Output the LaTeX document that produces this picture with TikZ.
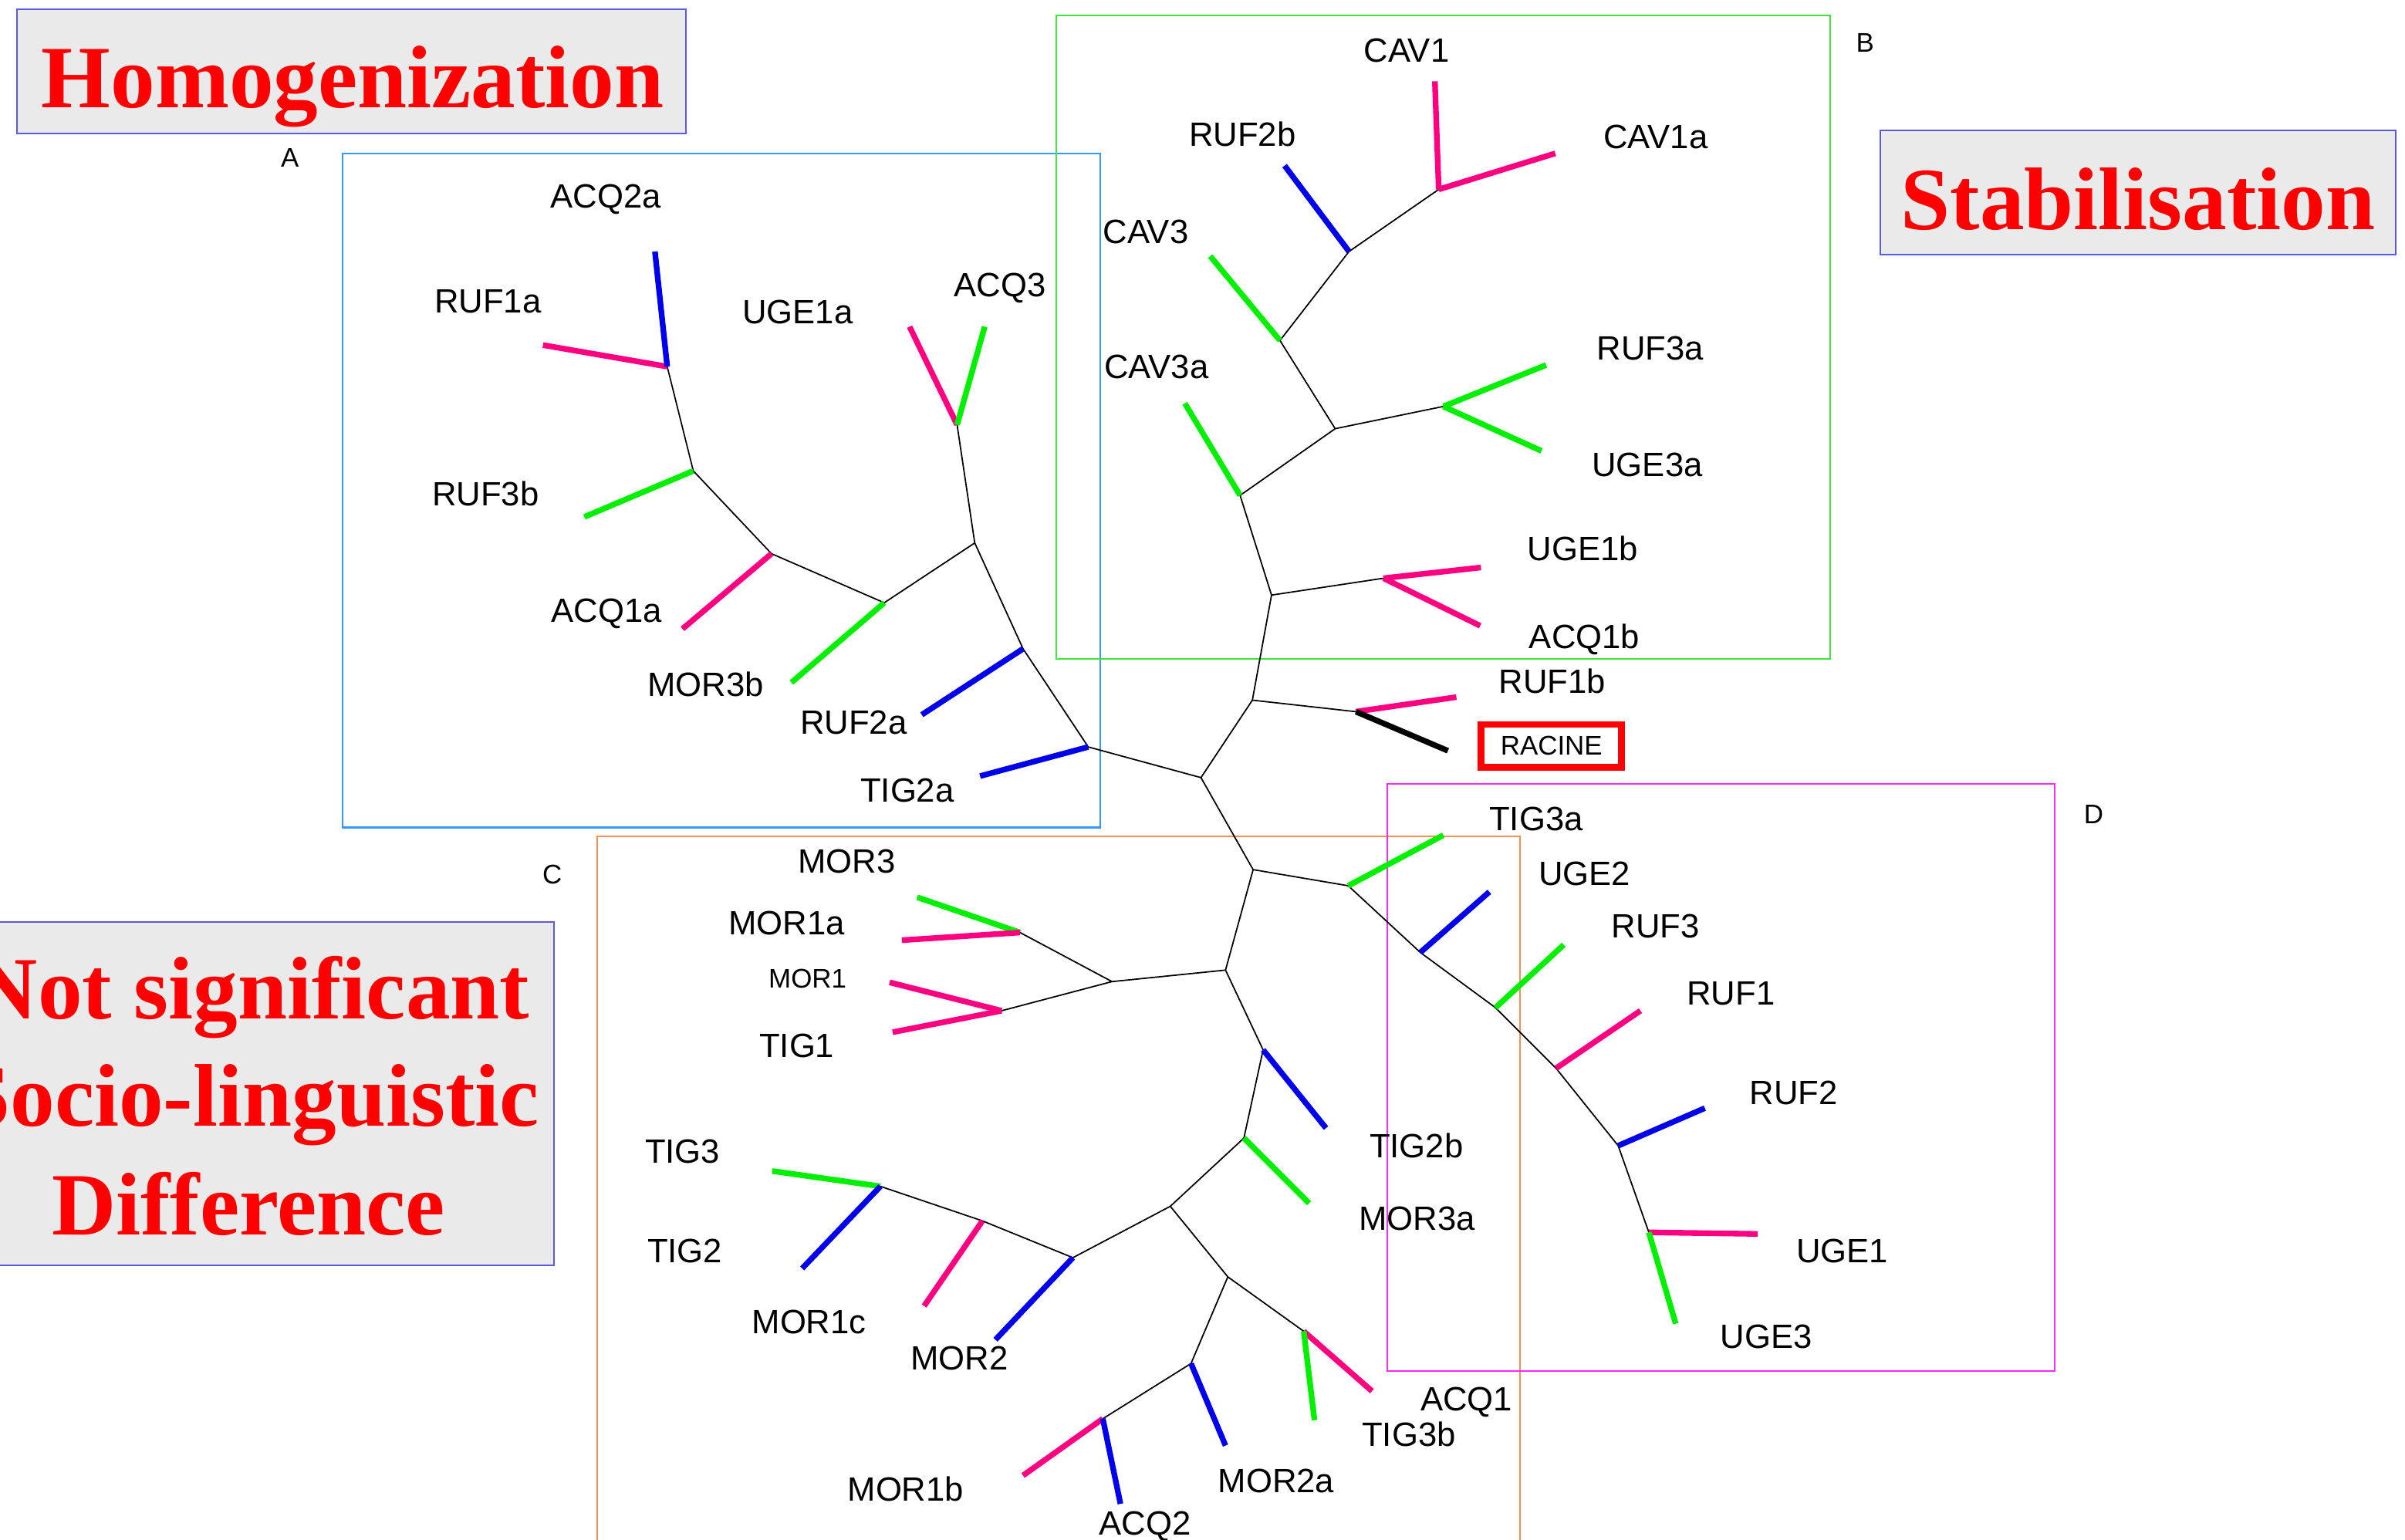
\documentclass[tikz,border=0pt]{standalone}
\usepackage{fontspec}
\newfontfamily\labelsans{Liberation Sans}
\newfontfamily\titleserif{Liberation Serif}
\definecolor{leafpink}{RGB}{255,0,128}
\definecolor{leafgreen}{RGB}{0,240,0}
\definecolor{leafblue}{RGB}{0,0,235}
\definecolor{boxA}{RGB}{51,153,255}
\definecolor{boxB}{RGB}{60,230,60}
\definecolor{boxC}{RGB}{255,140,80}
\definecolor{boxD}{RGB}{255,40,255}
\definecolor{titlefill}{RGB}{234,234,234}
\definecolor{titledraw}{RGB}{90,90,225}

\begin{document}
\begin{tikzpicture}[x=0.02cm,y=-0.02cm,
  branch/.style={black, line width=0.5pt, line join=round},
  leaf/.style={draw=#1, line width=2.1pt},
  group/.style={draw=#1, line width=0.6pt},
  titlebox/.style={fill=titlefill, draw=titledraw, line width=0.6pt},
  title/.style={font=\titleserif\bfseries\fontsize{33}{40}\selectfont, text=red, inner sep=0pt, anchor=base},
  lab/.style={font=\labelsans\fontsize{12.5}{14}\selectfont, inner sep=0pt},
  smalllab/.style={font=\labelsans\fontsize{10}{12}\selectfont, inner sep=0pt},
  racine/.style={draw=red, line width=2.5pt, minimum width=1.83cm, minimum height=0.56cm, inner sep=0pt, font=\labelsans\fontsize{10}{12}\selectfont}]
\useasboundingbox (0,0) rectangle (1568,1004);
\clip (0,0) rectangle (1568,1004);

% title boxes
\draw[titlebox] (11,6) rectangle (447,87);
\node[title] (homog) at (230,70) {Homogenization};
\draw[titlebox] (1226,85) rectangle (1562,166);
\node[title] (stab) at (1394,149.5) {Stabilisation};
\draw[titlebox] (-40,601) rectangle (361,825);
\node[title] (nsd1) at (164,664.5) {Not significant};
\node[title] (nsd2) at (163,734) {Socio-linguistic};
\node[title] (nsd3) at (162,805) {Difference};

% groups
\draw[group=boxA] (223.5,100) rectangle (717.5,539.5);
\draw[group=boxB] (688.5,10) rectangle (1193,429.5);
\draw[group=boxC] (389.5,1010) |- (991,545.5) -- (991,1010);
\draw[group=boxD] (904.5,511) rectangle (1339.5,894);
\node[smalllab] (gA) at (189,103) {A};
\node[smalllab] (gB) at (1216,28) {B};
\node[smalllab] (gC) at (360,570) {C};
\node[smalllab] (gD) at (1365,531) {D};

% inner nodes
\coordinate (c0) at (783,507);
\coordinate (jR) at (816.5,456.5);
\coordinate (jRf) at (884,464);
\coordinate (jB) at (829,388);
\coordinate (jBf) at (902,377);
\coordinate (jB1) at (808.5,323);
\coordinate (jB2) at (870.5,279.5);
\coordinate (jB3) at (941,265);
\coordinate (jB4) at (834.5,222);
\coordinate (jB5) at (879.5,164);
\coordinate (jB6) at (938,123.5);
\coordinate (jA) at (709.5,487);
\coordinate (jA1) at (667,423);
\coordinate (jA2) at (635.5,354);
\coordinate (jA3) at (624,277);
\coordinate (jA4) at (576.5,393);
\coordinate (jA5) at (503,361);
\coordinate (jA6) at (452,307);
\coordinate (jA7) at (435,239);
\coordinate (jD0) at (817,567);
\coordinate (jD) at (879,577.5);
\coordinate (jD1) at (926,621);
\coordinate (jD2) at (975,657);
\coordinate (jD3) at (1014.5,696.5);
\coordinate (jD4) at (1055,747);
\coordinate (jD5) at (1075,803.5);
\coordinate (jC) at (799,632.5);
\coordinate (jC1) at (725,640);
\coordinate (jC2) at (665,608);
\coordinate (jC3) at (653,659);
\coordinate (jC4) at (823.5,684.5);
\coordinate (jC5) at (811,742);
\coordinate (jC6) at (763,786.5);
\coordinate (jC7) at (699.5,820);
\coordinate (jC8) at (640.5,796);
\coordinate (jC9) at (574,773.5);
\coordinate (jC10) at (800.5,832.5);
\coordinate (jC11) at (850,868);
\coordinate (jC12) at (776.5,889);
\coordinate (jC13) at (719,925);

% leaf tips
\coordinate (tTIG2a) at (639,506);
\coordinate (tRUF2a) at (601,466);
\coordinate (tUGE1a) at (593,213);
\coordinate (tACQ3) at (642,213);
\coordinate (tMOR3b) at (516,445);
\coordinate (tACQ1a) at (445,410);
\coordinate (tRUF3b) at (381,337);
\coordinate (tRUF1a) at (354,225);
\coordinate (tACQ2a) at (427,164);
\coordinate (tUGE1b) at (965.5,370);
\coordinate (tACQ1b) at (965,408);
\coordinate (tCAV3a) at (772.5,263);
\coordinate (tRUF3a) at (1008,238);
\coordinate (tUGE3a) at (1005,294);
\coordinate (tCAV3) at (789,167);
\coordinate (tRUF2b) at (837.5,108);
\coordinate (tCAV1) at (935.5,53);
\coordinate (tCAV1a) at (1014,100);
\coordinate (tRUF1b) at (949.5,454.5);
\coordinate (tRACINE) at (944,489.5);
\coordinate (tTIG3a) at (941,544.5);
\coordinate (tUGE2) at (971,581.5);
\coordinate (tRUF3) at (1019.5,616);
\coordinate (tRUF1) at (1069.5,659);
\coordinate (tRUF2) at (1111.5,722.5);
\coordinate (tUGE1) at (1146,804.5);
\coordinate (tUGE3) at (1092.5,863);
\coordinate (tMOR3) at (598,585);
\coordinate (tMOR1a) at (588,613);
\coordinate (tMOR1) at (580,640.5);
\coordinate (tTIG1) at (582,673);
\coordinate (tTIG2b) at (864.5,735.5);
\coordinate (tMOR3a) at (853.5,784.5);
\coordinate (tMOR2) at (649,873.5);
\coordinate (tMOR1c) at (602.5,851.5);
\coordinate (tTIG3) at (503.5,763.5);
\coordinate (tTIG2) at (523,827);
\coordinate (tACQ1) at (894.5,907);
\coordinate (tTIG3b) at (857,926);
\coordinate (tMOR2a) at (799,942.5);
\coordinate (tMOR1b) at (667,962);
\coordinate (tACQ2) at (730.5,980.5);

% branches
\draw[branch] (jA3) -- (jA2) -- (jA1) -- (jA) -- (c0) -- (jR) -- (jB) -- (jB1) -- (jB2) -- (jB4) -- (jB5) -- (jB6);
\draw[branch] (jA2) -- (jA4) -- (jA5) -- (jA6) -- (jA7);
\draw[branch] (jR) -- (jRf);
\draw[branch] (jB) -- (jBf);
\draw[branch] (jB2) -- (jB3);
\draw[branch] (c0) -- (jD0) -- (jC) -- (jC4) -- (jC5) -- (jC6) -- (jC10) -- (jC12) -- (jC13);
\draw[branch] (jD0) -- (jD) -- (jD1) -- (jD2) -- (jD3) -- (jD4) -- (jD5);
\draw[branch] (jC) -- (jC1) -- (jC2);
\draw[branch] (jC1) -- (jC3);
\draw[branch] (jC6) -- (jC7) -- (jC8) -- (jC9);
\draw[branch] (jC10) -- (jC11);

% leaves
\draw[leaf=leafblue] (jA) -- (tTIG2a);
\draw[leaf=leafblue] (jA1) -- (tRUF2a);
\draw[leaf=leafpink] (jA3) -- (tUGE1a);
\draw[leaf=leafgreen] (jA3) -- (tACQ3);
\draw[leaf=leafgreen] (jA4) -- (tMOR3b);
\draw[leaf=leafpink] (jA5) -- (tACQ1a);
\draw[leaf=leafgreen] (jA6) -- (tRUF3b);
\draw[leaf=leafpink] (jA7) -- (tRUF1a);
\draw[leaf=leafblue] (jA7) -- (tACQ2a);
\draw[leaf=leafpink] (jBf) -- (tUGE1b);
\draw[leaf=leafpink] (jBf) -- (tACQ1b);
\draw[leaf=leafgreen] (jB1) -- (tCAV3a);
\draw[leaf=leafgreen] (jB3) -- (tRUF3a);
\draw[leaf=leafgreen] (jB3) -- (tUGE3a);
\draw[leaf=leafgreen] (jB4) -- (tCAV3);
\draw[leaf=leafblue] (jB5) -- (tRUF2b);
\draw[leaf=leafpink] (jB6) -- (tCAV1);
\draw[leaf=leafpink] (jB6) -- (tCAV1a);
\draw[leaf=leafpink] (jRf) -- (tRUF1b);
\draw[leaf=black] (jRf) -- (tRACINE);
\draw[leaf=leafgreen] (jD) -- (tTIG3a);
\draw[leaf=leafblue] (jD1) -- (tUGE2);
\draw[leaf=leafgreen] (jD2) -- (tRUF3);
\draw[leaf=leafpink] (jD3) -- (tRUF1);
\draw[leaf=leafblue] (jD4) -- (tRUF2);
\draw[leaf=leafpink] (jD5) -- (tUGE1);
\draw[leaf=leafgreen] (jD5) -- (tUGE3);
\draw[leaf=leafgreen] (jC2) -- (tMOR3);
\draw[leaf=leafpink] (jC2) -- (tMOR1a);
\draw[leaf=leafpink] (jC3) -- (tMOR1);
\draw[leaf=leafpink] (jC3) -- (tTIG1);
\draw[leaf=leafblue] (jC4) -- (tTIG2b);
\draw[leaf=leafgreen] (jC5) -- (tMOR3a);
\draw[leaf=leafblue] (jC7) -- (tMOR2);
\draw[leaf=leafpink] (jC8) -- (tMOR1c);
\draw[leaf=leafgreen] (jC9) -- (tTIG3);
\draw[leaf=leafblue] (jC9) -- (tTIG2);
\draw[leaf=leafpink] (jC11) -- (tACQ1);
\draw[leaf=leafgreen] (jC11) -- (tTIG3b);
\draw[leaf=leafblue] (jC12) -- (tMOR2a);
\draw[leaf=leafpink] (jC13) -- (tMOR1b);
\draw[leaf=leafblue] (jC13) -- (tACQ2);

% labels
\node[lab] (lACQ2a) at (395,130) {ACQ2a};
\node[lab] (lRUF1a) at (318,196.5) {RUF1a};
\node[lab] (lUGE1a) at (520,203.5) {UGE1a};
\node[lab] (lACQ3) at (652,188) {ACQ3};
\node[lab] (lRUF3b) at (316.5,322) {RUF3b};
\node[lab] (lACQ1a) at (395.5,400) {ACQ1a};
\node[lab] (lMOR3b) at (460,446) {MOR3b};
\node[lab] (lRUF2a) at (556.5,471) {RUF2a};
\node[lab] (lTIG2a) at (591.5,515.5) {TIG2a};
\node[lab] (lCAV1) at (917,33) {CAV1};
\node[lab] (lRUF2b) at (810,87.5) {RUF2b};
\node[lab] (lCAV1a) at (1079.5,89.5) {CAV1a};
\node[lab] (lCAV3) at (747,151) {CAV3};
\node[lab] (lCAV3a) at (754,239) {CAV3a};
\node[lab] (lRUF3a) at (1076,227) {RUF3a};
\node[lab] (lUGE3a) at (1074,303) {UGE3a};
\node[lab] (lUGE1b) at (1032,357.5) {UGE1b};
\node[lab] (lACQ1b) at (1033,417) {ACQ1b};
\node[lab] (lRUF1b) at (1012,444) {RUF1b};
\node[racine] (racine) at (1011.5,486.3) {RACINE};
\node[lab] (lTIG3a) at (1001.5,534) {TIG3a};
\node[lab] (lUGE2) at (1033,569.5) {UGE2};
\node[lab] (lRUF3) at (1079.5,604) {RUF3};
\node[lab] (lRUF1) at (1128.5,648) {RUF1};
\node[lab] (lRUF2) at (1169.5,712.5) {RUF2};
\node[lab] (lUGE1) at (1201,815.5) {UGE1};
\node[lab] (lUGE3) at (1151.5,871.5) {UGE3};
\node[lab] (lTIG2b) at (923.5,747) {TIG2b};
\node[lab] (lMOR3a) at (924,794.5) {MOR3a};
\node[lab] (lMOR3) at (552,561.5) {MOR3};
\node[lab] (lMOR1a) at (513,602) {MOR1a};
\node[smalllab] (lMOR1) at (526.5,638) {MOR1};
\node[lab] (lTIG1) at (519.5,682) {TIG1};
\node[lab] (lTIG3) at (445,751) {TIG3};
\node[lab] (lTIG2) at (446.5,815.5) {TIG2};
\node[lab] (lMOR1c) at (527.5,862) {MOR1c};
\node[lab] (lMOR2) at (625.5,885.5) {MOR2};
\node[lab] (lACQ1) at (956,914) {ACQ1};
\node[lab] (lTIG3b) at (918.5,935) {TIG3b};
\node[lab] (lMOR2a) at (832,965.5) {MOR2a};
\node[lab] (lMOR1b) at (590.5,971) {MOR1b};
\node[lab] (lACQ2) at (746.5,995) {ACQ2};
\end{tikzpicture}
\end{document}
